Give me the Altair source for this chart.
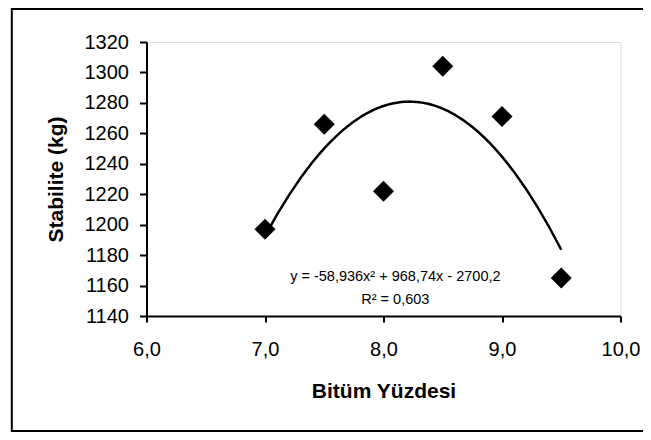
import altair as alt
import pandas as pd

# Data
bitum = [7.0, 7.5, 8.0, 8.5, 9.0, 9.5]
stabilite = [1197, 1266, 1222, 1304, 1271, 1165]

x_ticks = [6, 7, 8, 9, 10]
y_ticks = [1140, 1160, 1180, 1200, 1220, 1240, 1260, 1280, 1300, 1320]

eq_lines = ["y = -58,936x² + 968,74x - 2700,2", "R² = 0,603"]
eq_x = [8.10, 8.10]
eq_y = [1165.5, 1150.5]

FONT = "Liberation Sans"

df = pd.DataFrame({"x": bitum, "y": stabilite})
eq_df = pd.DataFrame({"x": eq_x, "y": eq_y, "t": eq_lines})

xscale = alt.Scale(domain=[6, 10], nice=False, zero=False)
yscale = alt.Scale(domain=[1140, 1320], nice=False, zero=False)

x_axis = alt.Axis(
    values=x_ticks,
    labelExpr="replace(format(datum.value, '.1f'), '.', ',')",
    labelFlush=False,
    labelOverlap=False,
    title="Bitüm Yüzdesi",
    titleFont=FONT,
    titleFontSize=21,
    titleFontWeight="bold",
    titleColor="black",
    titleX=237,
    titleY=64,
    titleBaseline="top",
    labelFont=FONT,
    labelFontSize=20,
    labelColor="black",
    labelPadding=17,
    domainColor="black",
    domainWidth=2,
    tickColor="black",
    tickWidth=2,
    tickSize=6,
    grid=False,
)

y_axis = alt.Axis(
    values=y_ticks,
    tickCount=10,
    format="d",
    labelFlush=False,
    labelOverlap=False,
    title="Stabilite (kg)",
    titleFont=FONT,
    titleFontSize=21,
    titleFontWeight="bold",
    titleColor="black",
    titleAngle=270,
    titleX=-80,
    titleY=137,
    titleBaseline="bottom",
    labelFont=FONT,
    labelFontSize=20,
    labelColor="black",
    labelPadding=11,
    domainColor="black",
    domainWidth=2,
    tickColor="black",
    tickWidth=2,
    tickSize=7,
    grid=False,
)

x_enc = alt.X("x:Q", scale=xscale, axis=x_axis)
y_enc = alt.Y("y:Q", scale=yscale, axis=y_axis)

base = alt.Chart(df)

points = base.mark_point(
    shape="diamond", filled=True, color="black", size=440, opacity=1
).encode(x=x_enc, y=y_enc)

trend = (
    base.transform_regression("x", "y", method="poly", order=2)
    .mark_line(color="black", strokeWidth=2.5)
    .encode(x=x_enc, y=y_enc)
)

eq_text = (
    alt.Chart(eq_df)
    .mark_text(font=FONT, fontSize=14.5, color="black", align="center", baseline="middle")
    .encode(x=x_enc, y=y_enc, text="t:N")
)

frame = (
    alt.Chart(pd.DataFrame({"a": [0]}))
    .mark_rect(fill="transparent", stroke="black", strokeWidth=2, clip=False)
    .encode(
        x=alt.value(-134.7),
        x2=alt.value(700),
        y=alt.value(-33),
        y2=alt.value(389),
    )
)

chart = (
    alt.layer(frame, trend, points, eq_text)
    .properties(
        width=474,
        height=274,
        autosize=alt.AutoSizeParams(type="none"),
        padding={"left": 138.5, "top": 34, "right": 22, "bottom": 116},
    )
    .configure_view(stroke="#808080", strokeWidth=1)
    .configure_axis(labelOverlap=False, labelFlush=False, labelBound=False)
    .configure(background="white")
)

chart.save("out.html", embed_options={"renderer": "svg", "actions": False})
